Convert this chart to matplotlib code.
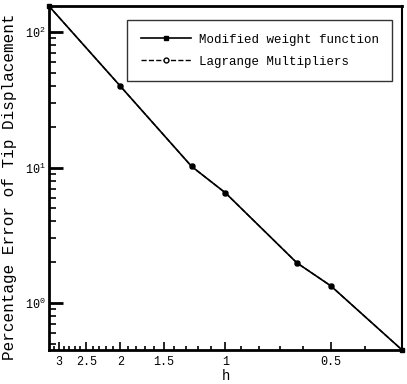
"""Percentage error of tip displacement vs h (log-log, reversed h axis)."""

import matplotlib
import matplotlib.pyplot as plt
from matplotlib.ticker import FixedLocator, NullFormatter, LogLocator

matplotlib.rcParams["font.family"] = ["Liberation Mono", "DejaVu Sans Mono"]

# Values
h = [3.2, 2.0, 1.25, 1.0, 0.625, 0.5, 0.3125]
err_modified = [156, 40, 10.2, 6.5, 1.98, 1.34, 0.45]
err_lagrange = [156, 40, 10.2, 6.5, 1.98, 1.34, 0.45]

x_major = [3, 2.5, 2, 1.5, 1, 0.5]
x_labels = ["3", "2.5", "2", "1.5", "1", "0.5"]
x_minor = [v / 10 for v in range(4, 32)]

fig = plt.figure(figsize=(4.07, 3.84), dpi=100)
ax = fig.add_axes([0.120, 0.0885, 0.868, 0.896])

ax.plot(h, err_lagrange, color="black", linestyle="--", linewidth=1.0,
        marker="o", markersize=3.5, markerfacecolor="white",
        label="Lagrange Multipliers", zorder=2)
ax.plot(h, err_modified, color="black", linestyle="-", linewidth=1.2,
        marker="s", markersize=3.5, markerfacecolor="black",
        label="Modified weight function", zorder=3, clip_on=False)

ax.set_xscale("log")
ax.set_yscale("log")
ax.set_xlim(h[0], h[-1])
ax.set_ylim(min(err_modified), max(err_modified))

ax.xaxis.set_major_locator(FixedLocator(x_major))
ax.set_xticklabels(x_labels)
ax.xaxis.set_minor_locator(FixedLocator(x_minor))
ax.xaxis.set_minor_formatter(NullFormatter())
ax.yaxis.set_major_locator(LogLocator(base=10))
ax.yaxis.set_minor_locator(LogLocator(base=10, subs=range(2, 10)))
ax.yaxis.set_minor_formatter(NullFormatter())

ax.tick_params(which="both", direction="in", top=False, right=False,
               labelsize=8.5, width=1.2)
ax.tick_params(axis="y", which="major", length=10, width=2, pad=2)
ax.tick_params(axis="y", which="minor", length=5)
ax.tick_params(axis="x", which="major", length=6, pad=4)
ax.tick_params(axis="x", which="minor", length=3)
for spine in ax.spines.values():
    spine.set_linewidth(2)
ax.spines["right"].set_linewidth(1.5)

ax.set_xlabel("h", fontsize=10, labelpad=1)
ax.set_ylabel("Percentage Error of Tip Displacement", fontsize=11.5)
ax.yaxis.set_label_coords(-0.09, 0.475)

handles, labels = ax.get_legend_handles_labels()
leg = ax.legend(handles[::-1], labels[::-1], loc="upper right",
                bbox_to_anchor=(0.99, 0.978), fontsize=9, frameon=True,
                fancybox=False, edgecolor="black", handlelength=4.0,
                handletextpad=0.6, borderpad=1.1, labelspacing=0.8)
leg.get_frame().set_linewidth(1.0)

fig.savefig("out.png", dpi=100)
